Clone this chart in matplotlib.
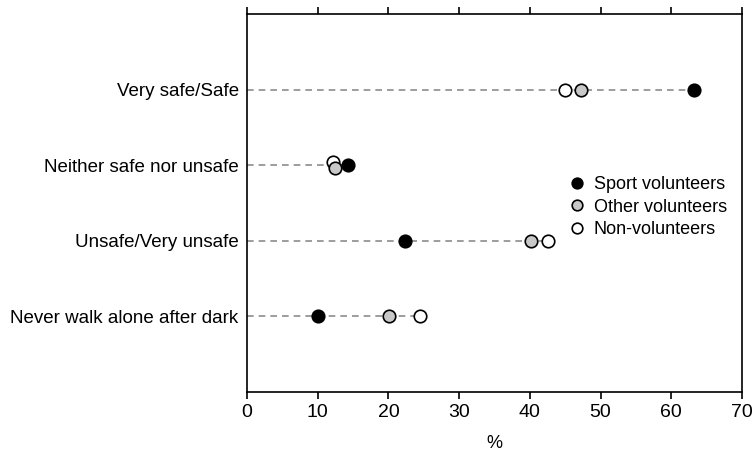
import numpy as np
import matplotlib
matplotlib.use('Agg')
import matplotlib.pyplot as plt

plt.rcParams['font.family'] = ['Liberation Sans', 'DejaVu Sans']
plt.rcParams['font.size'] = 13

categories = ['Very safe/Safe', 'Neither safe nor unsafe', 'Unsafe/Very unsafe',
              'Never walk alone after dark']
sport = [63.2, 14.3, 22.4, 10.0]
other = [47.2, 12.5, 40.1, 20.1]
non_vol = [45.0, 12.2, 42.5, 24.5]

series = [
    ('Sport volunteers', sport, 'black', 5),
    ('Other volunteers', other, '#c8c8c8', 4),
    ('Non-volunteers', non_vol, 'white', 3),
]

fig = plt.figure(figsize=(7.54, 4.53), dpi=100)
ax = fig.add_axes([247/754, 1 - 392/453, (742-247)/754, (392-14)/453])

y = np.arange(len(categories))

# nudge the two non-sport markers apart where they sit on top of each other
close = np.abs(np.array(other) - np.array(non_vol)) < 1.5
shift = {'Sport volunteers': 0.0, 'Other volunteers': 0.04, 'Non-volunteers': -0.04}

# dashed guide lines up to the largest value in each row
row_max = np.max([sport, other, non_vol], axis=0)
ax.hlines(y, 0, row_max, colors='#8c8c8c', linestyles=(0, (4, 3)), linewidth=1.2, zorder=1)

for label, vals, col, z in series:
    yy = y + np.where(close, shift[label], 0.0)
    ax.plot(vals, yy, 'o', ms=9, mfc=col, mec='black', mew=1.2, label=label, zorder=z)

ax.set_xlim(0, 70)
ax.set_ylim(len(categories), -1)
ax.set_yticks(y)
ax.set_yticklabels(categories)
ax.tick_params(axis='y', length=0, pad=6, labelsize=13.5)
ax.set_xticks(np.arange(0, 71, 10))
ax.tick_params(axis='x', direction='out', length=5, width=1.2, labelsize=14,
               top=True, labeltop=False)
ax.set_xlabel('%', fontsize=13, labelpad=10)
for s in ax.spines.values():
    s.set_linewidth(1.2)

ax.legend(loc='upper left', bbox_to_anchor=(0.633, 0.59), frameon=False,
          handletextpad=0.45, labelspacing=0.3, fontsize=13, borderaxespad=0,
          handlelength=1.0, markerscale=0.85)

fig.savefig('out.png', dpi=100)
